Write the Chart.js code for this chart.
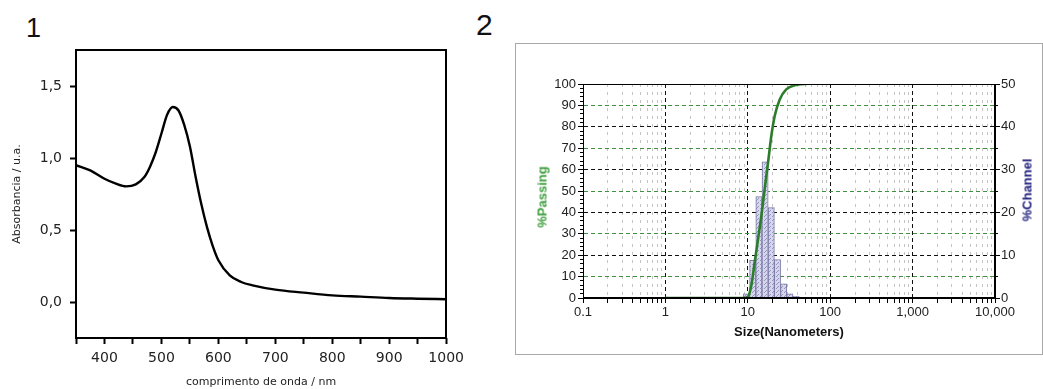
<!DOCTYPE html>
<html>
<head>
<meta charset="utf-8">
<script src="https://cdn.jsdelivr.net/npm/chart.js@4.4.1/dist/chart.umd.min.js"></script>
<style>
html,body{margin:0;padding:0;background:#fff}
body{width:1043px;height:389px;position:relative;overflow:hidden;font-family:'Liberation Sans',Arial,sans-serif}
.num{position:absolute;color:#111;font-family:'Liberation Sans',Arial,sans-serif}
#c1{position:absolute;left:0;top:0}
#box{position:absolute;left:515px;top:43px;width:528px;height:312px;border:1px solid #a8a8a8;box-sizing:border-box}
#c2{position:absolute;left:516px;top:44px}
.vt{position:absolute;font:bold 13px 'Liberation Sans',Arial,sans-serif;white-space:nowrap;transform:translate(-50%,-50%) rotate(-90deg)}
</style>
</head>
<body>
<div class="num" style="left:26px;top:15px;font-size:27px;line-height:27px">1</div>
<div class="num" style="left:476px;top:10px;font-size:30px;line-height:30px">2</div>
<canvas id="c1" width="470" height="389"></canvas>
<div id="box"></div>
<canvas id="c2" width="527" height="309"></canvas>
<div class="vt" style="left:542px;top:197px;color:#3c9c3c">%Passing</div>
<div class="vt" style="left:1027px;top:190px;color:#1c1c7c">%Channel</div>
<script>
// panel 1: absorbance spectrum
const wavelength = [350,375,400,420,438,455,470,480,490,500,510,520,530,540,550,560,570,580,590,600,620,640,660,700,750,800,850,900,950,1000]
const absorbance = [0.95,0.914,0.856,0.822,0.803,0.817,0.868,0.94,1.04,1.17,1.30,1.354,1.33,1.23,1.08,0.87,0.68,0.52,0.39,0.29,0.185,0.139,0.116,0.086,0.065,0.046,0.037,0.028,0.023,0.019]
const absTicks = [0,0.5,1,1.5]
const absTickLabels = ['0,0','0,5','1,0','1,5']

// panel 2: size distribution
const binEdges = [8.84,10.51,12.5,14.87,17.68,21.02,25,29.73,35.36,42.04,50]
const channelPct = [1.0,8.8,23.7,31.8,21.1,9.0,3.3,1.0,0.4,0.15]
const passSize = [1,8.8,10,11,12.1,13.3,14.6,16,17.6,19.3,21.2,24.4,29.3,37.1,44,52]
const passPct = [0,0,0.5,5.6,16.5,27.4,38.3,50.8,63.2,75.7,85,92.8,97.5,99.4,99.9,100]
const decades = [0.1,1,10,100,1000,10000]
const decadeLabels = ['0.1','1','10','100','1,000','10,000']

const frame = {
  id:'frame',
  afterDatasetsDraw(chart,args,opts){
    const {ctx,chartArea:a} = chart
    const w = opts.width || 1
    const o = w%2 ? 0.5 : 0
    const l = Math.round(a.left)+o, t = Math.round(a.top)+o
    const r = Math.round(a.right)-o, b = Math.round(a.bottom)-o
    ctx.save()
    ctx.strokeStyle = opts.color || '#000'
    ctx.lineWidth = w
    ctx.strokeRect(l,t,r-l,b-t)
    ctx.restore()
  }
}

const dv = {family:'DejaVu Sans',size:14}
new Chart(document.getElementById('c1'),{
  type:'line',
  data:{datasets:[{data:wavelength.map((x,i)=>({x,y:absorbance[i]})),borderColor:'#000',borderWidth:2.4,pointRadius:0,cubicInterpolationMode:'monotone'}]},
  options:{
    responsive:false,animation:false,
    layout:{padding:{top:50,right:20,left:0,bottom:0}},
    plugins:{legend:{display:false},tooltip:{enabled:false},frame:{width:2}},
    scales:{
      x:{type:'linear',min:350,max:1000,afterFit(s){s.height=51},
        ticks:{stepSize:50,autoSkip:false,maxRotation:0,padding:6,color:'#222',font:dv,callback:v=>v%100===0?String(v):''},
        grid:{drawOnChartArea:false,tickLength:6,tickColor:'#000',tickWidth:2},
        border:{display:false},
        title:{display:true,text:'comprimento de onda / nm',color:'#222',font:{family:'DejaVu Sans',size:11},padding:{top:0,bottom:0}}},
      y:{min:-0.25,max:1.75,afterFit(s){s.width=76},
        afterBuildTicks(s){s.ticks=absTicks.map(v=>({value:v}))},
        ticks:{padding:8,color:'#222',font:dv,callback:v=>{const i=absTicks.indexOf(v);return i<0?'':absTickLabels[i]}},
        grid:{drawOnChartArea:false,tickLength:6,tickColor:'#000',tickWidth:2},
        border:{display:false},
        title:{display:true,text:'Absorbancia / u.a.',color:'#222',font:{family:'DejaVu Sans',size:11},padding:{top:11,bottom:0}}}
    }
  },
  plugins:[frame]
})

// hatch fill for the channel bars
const hatch = document.createElement('canvas')
hatch.width = hatch.height = 4
const hc = hatch.getContext('2d')
hc.fillStyle = '#d6d6ee'
hc.fillRect(0,0,4,4)
hc.fillStyle = '#9494bc'
hc.fillRect(0,0,1,1); hc.fillRect(2,2,1,1); hc.fillRect(1,3,1,1)
const pattern = hc.createPattern(hatch,'repeat')

const binMid = binEdges.slice(0,-1).map((e,i)=>Math.sqrt(e*binEdges[i+1]))
const logTicks = decades.flatMap(d=>[1,2,3,4,5,6,7,8,9].map(k=>+(d*k).toPrecision(6))).filter(v=>v<=10000)
const lib = {family:'Liberation Sans',size:13}
const isDecade = v=>decades.includes(v)
const noLabel = ()=>''

new Chart(document.getElementById('c2'),{
  type:'line',
  data:{datasets:[
    {type:'line',data:passSize.map((x,i)=>({x,y:passPct[i]})),yAxisID:'y',borderColor:'#2b7d2b',borderWidth:2.6,pointRadius:0,cubicInterpolationMode:'monotone',order:0},
    {type:'bar',data:binMid.map((x,i)=>({x,y:channelPct[i]})),yAxisID:'y2',backgroundColor:pattern,borderColor:'#7a7aa6',borderWidth:1,barThickness:'flex',categoryPercentage:1,barPercentage:1,order:1}
  ]},
  options:{
    responsive:false,animation:false,
    layout:{padding:{top:40,right:0,left:0,bottom:0}},
    plugins:{legend:{display:false},tooltip:{enabled:false},frame:{width:1}},
    scales:{
      x:{type:'logarithmic',min:0.1,max:10000,offset:false,afterFit(s){s.height=55},
        afterBuildTicks(s){s.ticks=logTicks.map(v=>({value:v}))},
        ticks:{autoSkip:false,maxRotation:0,padding:2,color:'#222',font:lib,callback:v=>{const i=decades.indexOf(v);return i<0?'':decadeLabels[i]}},
        grid:{offset:false,tickColor:'#000',tickLength:5,
          color:c=>{if(!c.tick)return '#000';const v=c.tick.value;if(v===0.1||v===10000)return 'rgba(0,0,0,0)';return isDecade(v)?'#111':'#c4c4c4'}},
        border:{color:'#000',dash:c=>(c.tick&&!isDecade(c.tick.value))?[3,5]:[4,3]},
        title:{display:true,text:'Size(Nanometers)',color:'#111',font:{family:'Liberation Sans',size:13,weight:'bold'},padding:{top:0,bottom:13}}},
      y:{position:'left',weight:1,min:0,max:100,afterFit(s){s.width=67},
        ticks:{stepSize:10,autoSkip:false,padding:2,color:'#222',font:lib},
        grid:{tickColor:'#000',tickLength:5,
          color:c=>{if(!c.tick)return '#000';const v=c.tick.value;if(v===0||v===100)return 'rgba(0,0,0,0)';return v%20===0?'#111':'#3f913f'}},
        border:{color:'#000',dash:[4,3]}},
      yMinor:{position:'left',weight:0,min:0,max:100,afterFit(s){s.width=0},
        ticks:{stepSize:2,autoSkip:false,padding:0,callback:noLabel},
        grid:{drawOnChartArea:false,tickColor:'#000',tickLength:3},
        border:{display:false}},
      y2:{position:'right',weight:1,min:0,max:50,afterFit(s){s.width=48},
        ticks:{stepSize:10,autoSkip:false,padding:1,color:'#222',font:lib},
        grid:{drawOnChartArea:false,tickColor:'#000',tickLength:5},
        border:{color:'#000'}},
      y2Minor:{position:'right',weight:0,min:0,max:50,afterFit(s){s.width=0},
        ticks:{stepSize:5,autoSkip:false,padding:0,callback:noLabel},
        grid:{drawOnChartArea:false,tickColor:'#000',tickLength:3},
        border:{display:false}}
    }
  },
  plugins:[frame]
})
</script>
</body>
</html>
